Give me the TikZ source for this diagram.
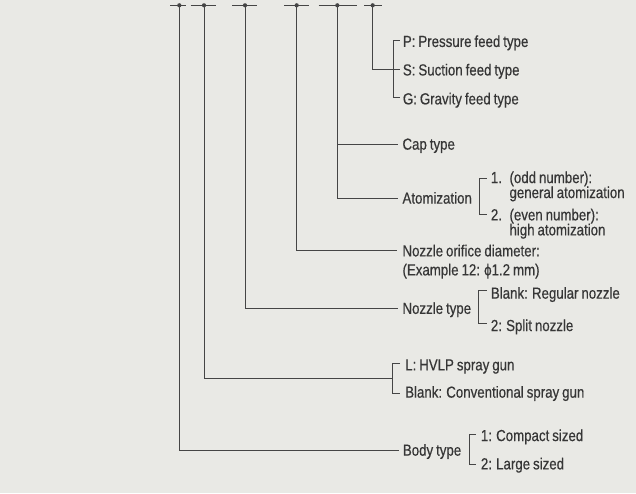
\documentclass[tikz,border=0pt]{standalone}
\usepackage{fontspec}
\setmainfont{Liberation Sans}[FakeStretch=0.83,FakeBold=0.5,WordSpace=0.8]
\definecolor{bg}{HTML}{E9E9E5}
\definecolor{ln}{HTML}{454545}
\definecolor{txt}{HTML}{363636}
\begin{document}
\begin{tikzpicture}[x=1pt,y=-1pt,
  lbl/.style={anchor=west,inner sep=0pt,text height=11.3pt,text depth=0pt,
    font=\fontsize{16}{16}\selectfont,text=txt},
  ln/.style={draw=ln,line width=1pt},
  dotc/.style={fill=ln,circle,inner sep=0pt,minimum size=4.2pt}]
\fill[bg] (0,0) rectangle (636,493);
\useasboundingbox (0,0) rectangle (636,493);

% top ticks with dots
\draw[ln] (170,5.3) -- (186,5.3);
\draw[ln] (190.7,5.3) -- (216,5.3);
\draw[ln] (232,5.3) -- (257,5.3);
\draw[ln] (284,5.3) -- (308.5,5.3);
\draw[ln] (318.7,5.3) -- (356.7,5.3);
\draw[ln] (364,5.3) -- (381.7,5.3);
\node[dotc] (d1) at (179.3,5.3) {};
\node[dotc] (d2) at (204,5.3) {};
\node[dotc] (d3) at (245,5.3) {};
\node[dotc] (d4) at (296.7,5.3) {};
\node[dotc] (d5) at (337.3,5.3) {};
\node[dotc] (d6) at (372.7,5.3) {};

% labels
\node[lbl] (p) at (402.7,41.3) {P: Pressure feed type};
\node[lbl] (s) at (402.7,69.8) {S: Suction feed type};
\node[lbl] (g) at (402.7,98.7) {G: Gravity feed type};
\node[lbl] (cap) at (402.3,144) {Cap type};
\node[lbl] (atom) at (402.3,198) {Atomization};
\node[lbl] (one) at (490.7,177.4) {1.};
\node[lbl] (odd) at (509.3,177.4) {(odd number):};
\node[lbl] (gen) at (509.3,192.4) {general atomization};
\node[lbl] (two) at (490.7,214.7) {2.};
\node[lbl] (even) at (509.3,214.7) {(even number):};
\node[lbl] (high) at (509.3,229.7) {high atomization};
\node[lbl] (noz) at (402.3,250.7) {Nozzle orifice diameter:};
\node[lbl] (ex) at (402.3,269.7) {(Example 12: ϕ1.2 mm)};
\node[lbl] (ntype) at (402.3,308.2) {Nozzle type};
\node[lbl] (reg) at (490.7,293) {Blank: Regular nozzle};
\node[lbl] (split) at (490.7,325.4) {2: Split nozzle};
\node[lbl] (hvlp) at (405,364.7) {L: HVLP spray gun};
\node[lbl] (conv) at (405,392) {Blank: Conventional spray gun};
\node[lbl] (body) at (402.7,450) {Body type};
\node[lbl] (compact) at (480.7,435.4) {1: Compact sized};
\node[lbl] (large) at (480.7,463.7) {2: Large sized};

% brackets
\draw[ln] (399.5,40.7) -- (393.3,40.7) -- (393.3,97.3) -- (399.5,97.3);
\draw[ln] (486.7,178.3) -- (479,178.3) -- (479,214.3) -- (486.7,214.3);
\draw[ln] (486.7,290) -- (478,290) -- (478,323.3) -- (486.7,323.3);
\draw[ln] (400,363) -- (392.3,363) -- (392.3,393.3) -- (400,393.3);
\draw[ln] (475.7,434.3) -- (469,434.3) -- (469,464) -- (475.7,464);
\coordinate (lbr) at (392.3,378.3);

% connectors
\draw[ln] (d6.center) |- ([xshift=-3pt]s.west);
\draw[ln] (d5.center) |- ([xshift=-4pt]atom.west);
\draw[ln] (d5.center |- cap.west) -- ([xshift=-4pt]cap.west);
\draw[ln] (d4.center) |- ([xshift=-5pt]noz.west);
\draw[ln] (d3.center) |- ([xshift=-4pt]ntype.west);
\draw[ln] (d2.center) |- (lbr);
\draw[ln] (d1.center) |- ([xshift=-3.5pt]body.west);
\end{tikzpicture}
\end{document}
